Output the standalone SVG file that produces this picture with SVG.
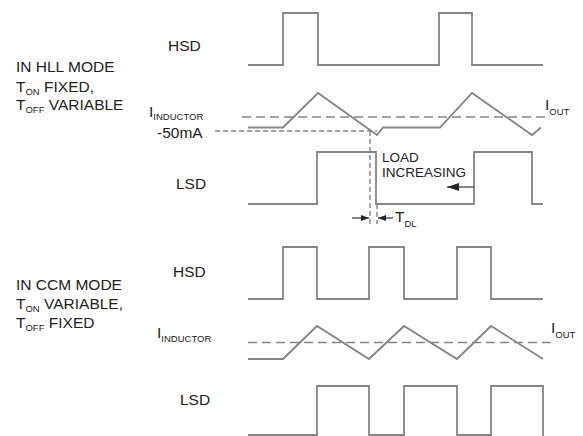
<svg xmlns="http://www.w3.org/2000/svg" width="583" height="436" viewBox="0 0 583 436">
<style>
text{font-family:"Liberation Sans",Arial,sans-serif;fill:#222;}
.lbl{font-size:15.5px;}
.sub{font-size:9.5px;}
.w{fill:none;stroke:#858585;stroke-width:1.8;stroke-linejoin:miter;}
.dl{fill:none;stroke:#858585;stroke-width:1.6;stroke-dasharray:9 5;}
.ds{fill:none;stroke:#858585;stroke-width:1.4;stroke-dasharray:5 3;}
.ar{fill:none;stroke:#444;stroke-width:1.3;}
</style>
<defs>
<marker id="ah" markerWidth="8" markerHeight="6" refX="8" refY="3" orient="auto" markerUnits="userSpaceOnUse">
<path d="M0,0 L8,3 L0,6 Z" fill="#222"/>
</marker>
<marker id="ahb" markerWidth="12" markerHeight="8" refX="12" refY="4" orient="auto" markerUnits="userSpaceOnUse">
<path d="M0,0 L12,4 L0,8 Z" fill="#222"/>
</marker>
</defs>
<g id="hll-title">
<text class="lbl" x="16" y="72">IN HLL MODE</text>
<text class="lbl" x="16" y="92">T<tspan class="sub" dy="3">ON</tspan><tspan dy="-3"> FIXED,</tspan></text>
<text class="lbl" x="16" y="110">T<tspan class="sub" dy="3">OFF</tspan><tspan dy="-3"> VARIABLE</tspan></text>
</g>
<g id="hll-hsd">
<text class="lbl" x="168" y="51">HSD</text>
<polyline class="w" points="248,65 283,65 283,13 318,13 318,65 439,65 439,13 472,13 472,65 543,65"/>
</g>
<g id="hll-inductor">
<text class="lbl" x="149" y="117">I<tspan class="sub" dy="3">INDUCTOR</tspan></text>
<text class="lbl" x="157" y="138">-50mA</text>
<line class="dl" x1="242" y1="117" x2="545" y2="117"/>
<line class="ds" x1="215" y1="131" x2="377" y2="131"/>
<polyline class="w" points="248,127.5 283,127.5 318,93 377,135 383,127.5 440,127.5 472,93 532,135 541,127.5"/>
<text class="lbl" x="545" y="110">I<tspan class="sub" dy="5">OUT</tspan></text>
</g>
<g id="hll-lsd">
<text class="lbl" x="176" y="189">LSD</text>
<polyline class="w" points="248,204 317,204 317,152 376,152 376,204 474,204 474,152 532,152 532,204 543,204"/>
</g>
<g id="connectors">
<line class="ds" x1="370" y1="131" x2="370" y2="224"/>
<line class="ds" x1="377" y1="204" x2="377" y2="224"/>
<line class="ar" x1="474" y1="187" x2="447" y2="187" marker-end="url(#ahb)"/>
<line class="ar" x1="352" y1="218" x2="369" y2="218" marker-end="url(#ah)"/>
<line class="ar" x1="393" y1="218" x2="378" y2="218" marker-end="url(#ah)"/>
</g>
<g id="load-label">
<text x="382" y="162" style="font-size:13.5px">LOAD</text>
<text x="382" y="177" style="font-size:13.5px">INCREASING</text>
</g>
<g id="tdl-label">
<text class="lbl" x="395" y="222">T<tspan class="sub" dy="5">DL</tspan></text>
</g>
<g id="ccm-title">
<text class="lbl" x="16" y="290">IN CCM MODE</text>
<text class="lbl" x="16" y="309">T<tspan class="sub" dy="3">ON</tspan><tspan dy="-3"> VARIABLE,</tspan></text>
<text class="lbl" x="16" y="328">T<tspan class="sub" dy="3">OFF</tspan><tspan dy="-3"> FIXED</tspan></text>
</g>
<g id="ccm-hsd">
<text class="lbl" x="173" y="277">HSD</text>
<polyline class="w" points="248,299 283,299 283,247 317,247 317,299 369,299 369,247 404,247 404,299 457,299 457,247 491,247 491,299 543,299"/>
</g>
<g id="ccm-inductor">
<text class="lbl" x="157" y="338">I<tspan class="sub" dy="4">INDUCTOR</tspan></text>
<line class="dl" x1="248" y1="342.5" x2="552" y2="342.5"/>
<polyline class="w" points="248,359 283,359 317,326 369,359 404,326 457,359 491,326 543,359"/>
<text class="lbl" x="551" y="333">I<tspan class="sub" dy="5">OUT</tspan></text>
</g>
<g id="ccm-lsd">
<text class="lbl" x="180" y="405">LSD</text>
<polyline class="w" points="248,435 317,435 317,386 369,386 369,435 404,435 404,386 457,386 457,435 491,435 491,386 543,386 543,436"/>
</g>
</svg>
